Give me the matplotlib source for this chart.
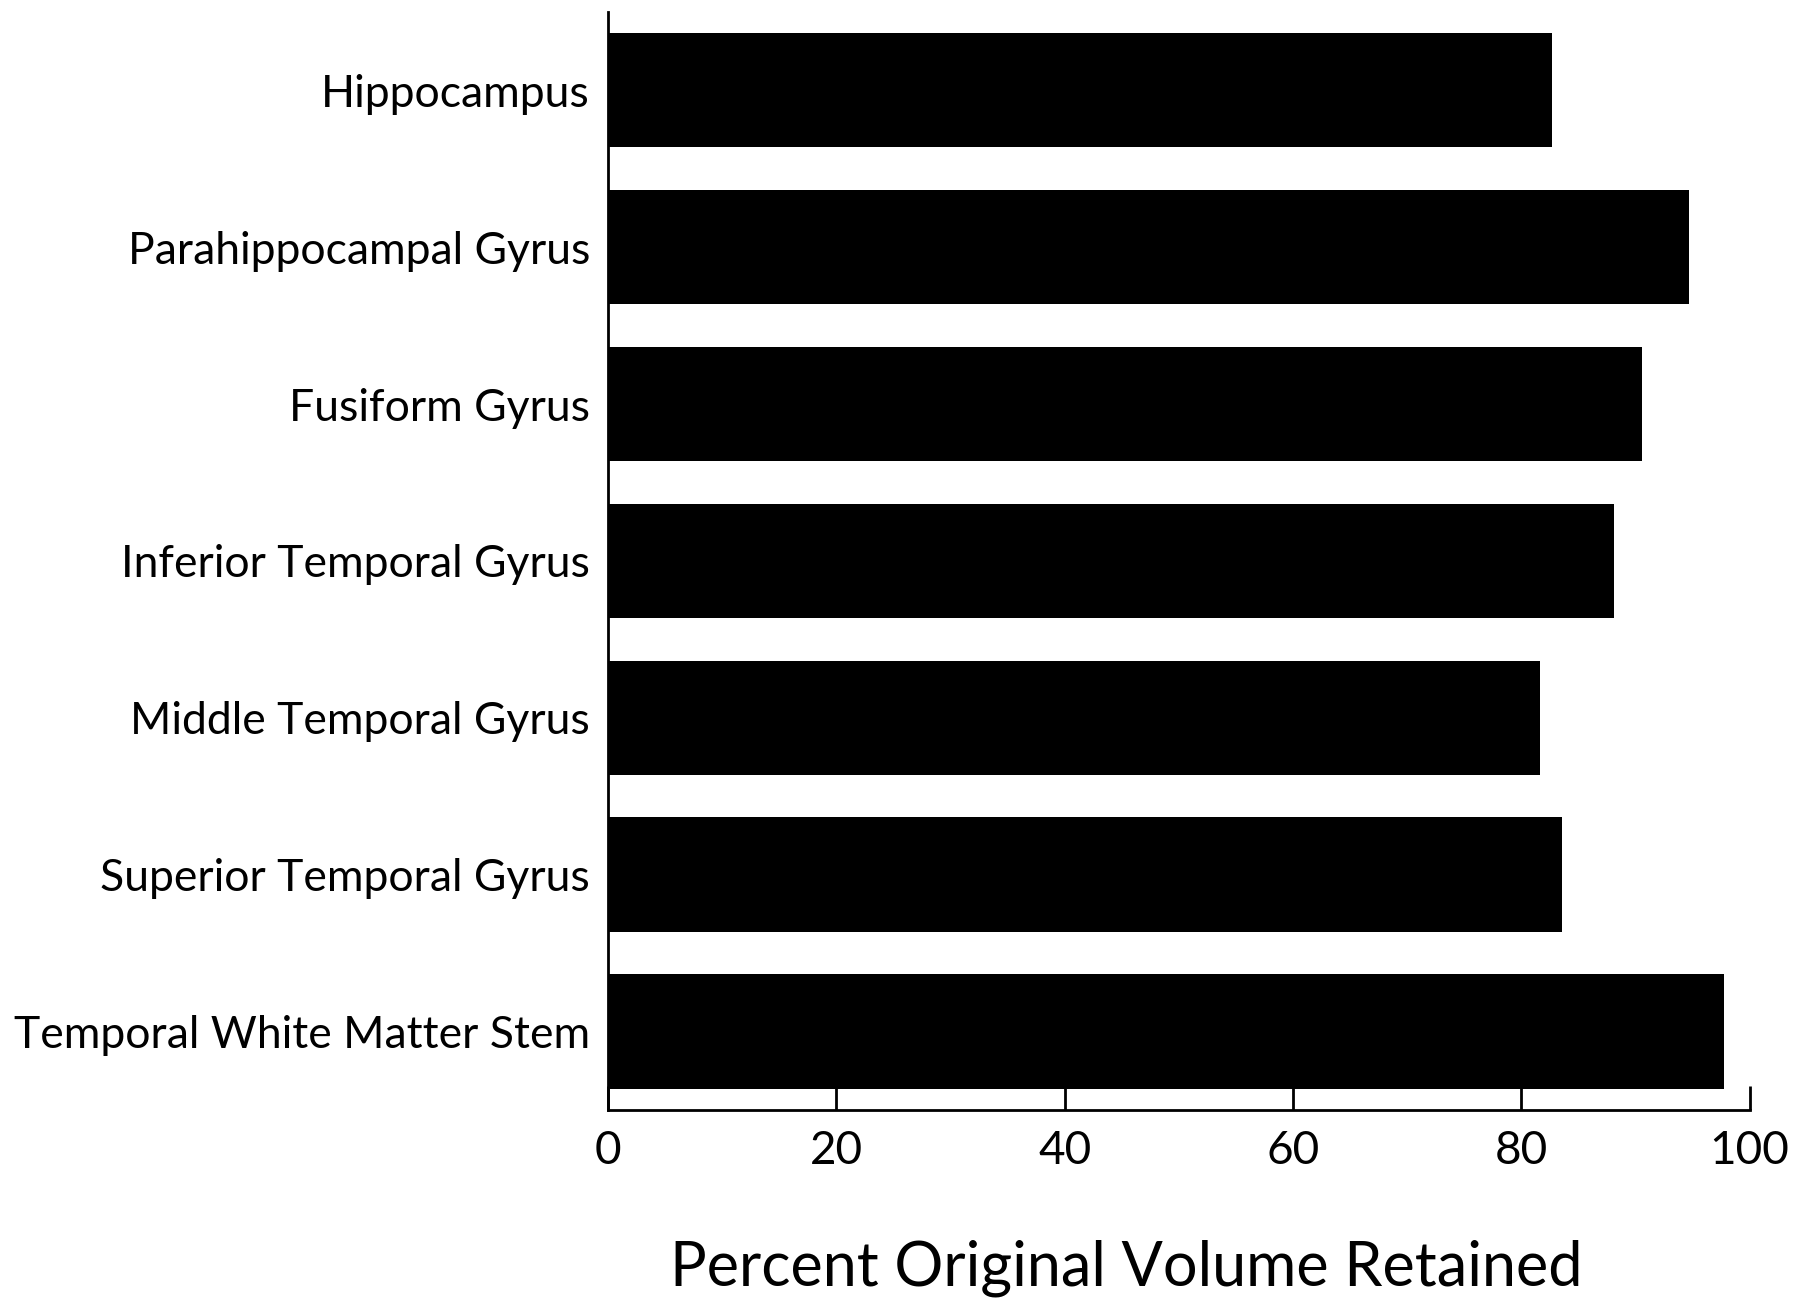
import matplotlib
matplotlib.use("Agg")
import matplotlib.pyplot as plt

categories = ["Hippocampus", "Parahippocampal Gyrus", "Fusiform Gyrus",
              "Inferior Temporal Gyrus", "Middle Temporal Gyrus",
              "Superior Temporal Gyrus", "Temporal White Matter Stem"]
values = [82.7, 94.7, 90.6, 88.1, 81.6, 83.6, 97.8]
xticks = [0, 20, 40, 60, 80, 100]
xlabel = "Percent Original Volume Retained"

plt.rcParams['font.family'] = ['Lato', 'DejaVu Sans']

fig = plt.figure(figsize=(18, 13.06), dpi=100)
ax = fig.add_axes([0.3378, 0.150, 0.972 - 0.3378, 0.991 - 0.150])

pos = list(range(len(categories)))
ax.barh(pos, values, height=0.73, color="black")
ax.set_ylim(len(categories) - 0.5, -0.5)
ax.set_xlim(0, 100)
ax.set_yticks(pos)
ax.set_yticklabels(categories, fontsize=32)
ax.set_xticks(xticks)
ax.set_xticklabels([str(t) for t in xticks], fontsize=33)
ax.tick_params(axis='y', length=0, pad=13)
ax.tick_params(axis='x', direction='in', length=17, width=2, pad=14)
ax.spines['top'].set_visible(False)
ax.spines['right'].set_visible(False)
ax.spines['left'].set_linewidth(2)
ax.spines['bottom'].set_linewidth(2)
lab = ax.set_xlabel(xlabel, fontsize=44)
lab.set_verticalalignment('center')
ax.xaxis.set_label_coords(0.4537, -0.144)

fig.savefig("out.png", dpi=100)
